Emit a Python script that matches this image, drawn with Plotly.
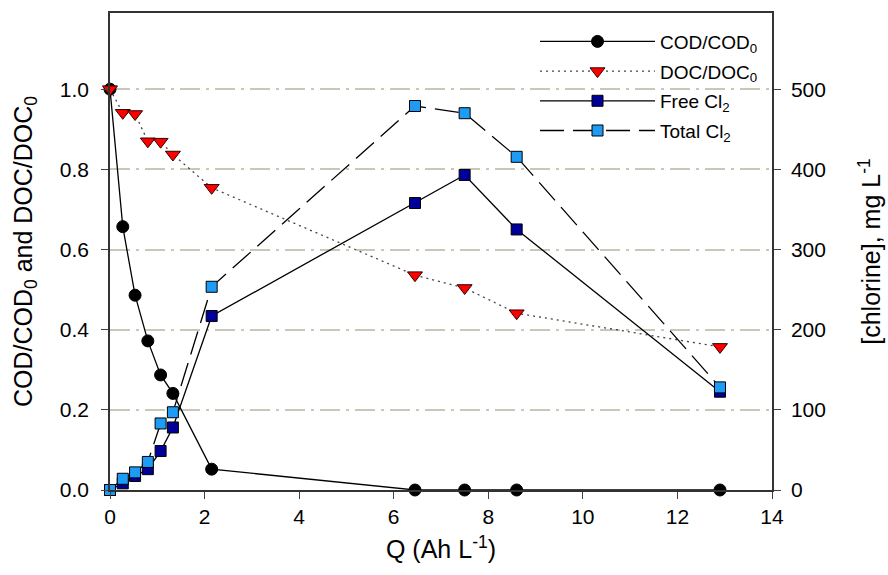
import plotly.graph_objects as go

# Charge passed, Q (Ah L^-1)
q = [0, 0.27, 0.53, 0.80, 1.07, 1.33, 2.15, 6.45, 7.5, 8.6, 12.9]

# Normalised organic load
cod_ratio = [1.0, 0.657, 0.486, 0.372, 0.287, 0.241, 0.052, 0.0, 0.0, 0.0, 0.0]
doc_ratio = [1.0, 0.941, 0.938, 0.870, 0.869, 0.837, 0.754, 0.536, 0.504, 0.441, 0.357]

# Chlorine species (mg L^-1)
free_cl2 = [0, 8.3, 17.5, 26, 48.6, 78, 217, 358, 393, 325, 122.6]
total_cl2 = [0, 14, 22, 35, 83, 97, 253.5, 479, 470, 415.6, 128]

left_ticks = [0.0, 0.2, 0.4, 0.6, 0.8, 1.0]
right_ticks = [0, 100, 200, 300, 400, 500]
x_ticks = [0, 2, 4, 6, 8, 10, 12, 14]

FONT = "Liberation Sans, Arial, sans-serif"
TICK_FONT = dict(family=FONT, size=21, color="black")
TITLE_FONT = dict(family=FONT, size=25, color="black")

fig = go.Figure()

fig.add_trace(go.Scatter(
    x=q, y=cod_ratio, name="COD/COD<sub>0</sub>", mode="lines+markers",
    line=dict(color="black", width=1.3),
    marker=dict(symbol="circle", size=12, color="black", line=dict(color="black", width=1)),
    cliponaxis=False, legendgroup="a",
))
fig.add_trace(go.Scatter(
    x=q, y=doc_ratio, name="DOC/DOC<sub>0</sub>", mode="lines+markers",
    line=dict(color="#444444", width=1.3, dash="2px,4px"),
    marker=dict(symbol="triangle-down", size=13, color="#ff0000", line=dict(color="#300000", width=1)),
    cliponaxis=False, legendgroup="b",
))
fig.add_trace(go.Scatter(
    x=q, y=free_cl2, name="Free Cl<sub>2</sub>", mode="lines+markers", yaxis="y2",
    line=dict(color="black", width=1.3),
    marker=dict(symbol="square", size=11, color="#000099", line=dict(color="black", width=1)),
    cliponaxis=False, legendgroup="c",
))
fig.add_trace(go.Scatter(
    x=q, y=total_cl2, name="Total Cl<sub>2</sub>", mode="lines+markers", yaxis="y2",
    line=dict(color="black", width=1.3, dash="24px,9px"),
    marker=dict(symbol="square", size=11, color="#1e9cf5", line=dict(color="black", width=1)),
    cliponaxis=False, legendgroup="d",
))

fig.update_layout(
    width=888, height=575,
    margin=dict(l=110, r=116, t=13, b=85),
    paper_bgcolor="white", plot_bgcolor="white",
    font=dict(family=FONT, size=19, color="black"),
    showlegend=True,
    legend=dict(
        x=0.642, y=0.98, xanchor="left", yanchor="top",
        bgcolor="rgba(0,0,0,0)", font=dict(family=FONT, size=19, color="black"),
        itemwidth=115, tracegroupgap=2,
    ),
    xaxis=dict(
        range=[0, 14], tickvals=x_ticks, ticks="outside", ticklen=7,
        tickfont=TICK_FONT, automargin=False,
        showline=True, linecolor="#333333", linewidth=1.5, mirror=True,
        showgrid=False, zeroline=False,
        title=dict(text="Q (Ah L<sup>-1</sup>)", font=TITLE_FONT, standoff=14),
    ),
    yaxis=dict(
        range=[0, 1.19], tickvals=left_ticks, tickformat=".1f",
        ticks="outside", ticklen=7, tickfont=TICK_FONT, ticklabelstandoff=8,
        automargin=False,
        showline=True, linecolor="#333333", linewidth=1.5,
        showgrid=True, gridcolor="#c8c8b8", gridwidth=1.5, griddash="20px,6px,3px,6px",
        zeroline=False,
        title=dict(text="COD/COD<sub>0</sub> and DOC/DOC<sub>0</sub>", font=TITLE_FONT, standoff=20),
    ),
    yaxis2=dict(
        range=[0, 595], tickvals=right_ticks, overlaying="y", side="right",
        ticks="outside", ticklen=7, tickfont=TICK_FONT, ticklabelstandoff=6,
        automargin=False,
        showline=True, linecolor="#333333", linewidth=1.5,
        showgrid=False, zeroline=False,
        title=dict(text="[chlorine], mg L<sup>-1</sup>", font=TITLE_FONT, standoff=38),
    ),
)

fig.write_html("out.html")
